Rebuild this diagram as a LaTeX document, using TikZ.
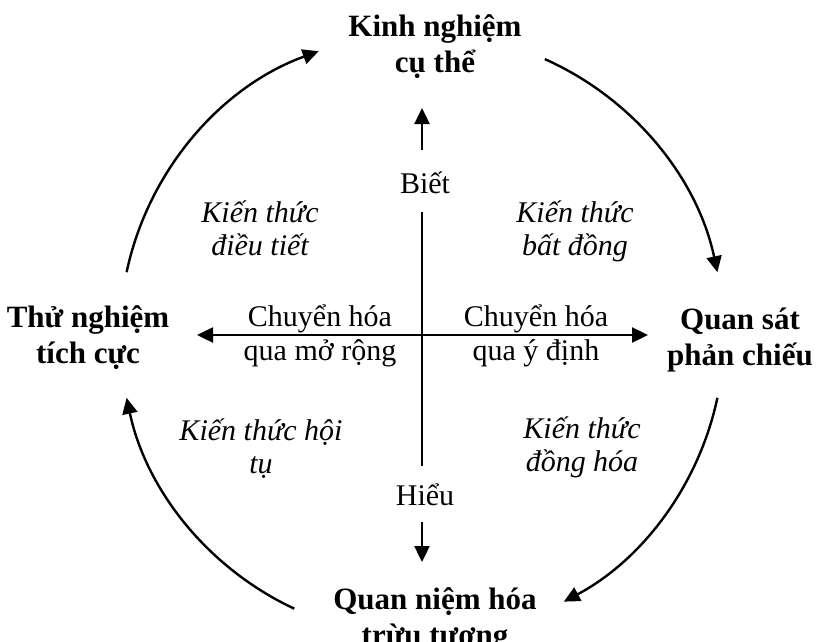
\documentclass[tikz,border=0pt]{standalone}
\usepackage{fontspec}
\setmainfont{Liberation Serif}
\usetikzlibrary{arrows.meta}
\tikzset{
  ln/.style   ={draw=black, line width=2.4pt},
  ptr/.style  ={ln, -{Triangle[length=16pt,width=15pt]}},
  pole/.style ={font=\fontsize{31}{36}\selectfont\bfseries, align=center, inner sep=1pt},
  ax/.style   ={font=\fontsize{30}{34}\selectfont, align=center, inner sep=1pt},
  kt/.style   ={font=\fontsize{30}{33}\selectfont\itshape, align=center, inner sep=1pt},
}
\begin{document}
\begin{tikzpicture}[x=1pt,y=-1pt]
  \useasboundingbox (0,0) rectangle (828,642);
  \coordinate (o) at (422,335);
  \node[pole] (kinh) at (435,47) {Kinh nghiệm\\cụ thể};
  \node[pole] (thu) at (88,338) {Thử nghiệm\\tích cực};
  \node[pole] (quan) at (740,340) {Quan sát\\phản chiếu};
  \node[pole] (niem) at (435,620) {Quan niệm hóa\\trừu tượng};
  \node[ax] (biet) at (425,183) {Biết};
  \node[ax] (hieu) at (425,495) {Hiểu};
  \node[ax] (chl) at (320,336) {Chuyển hóa\\qua mở rộng};
  \node[ax] (chr) at (536,336) {Chuyển hóa\\qua ý định};
  \node[kt] (ktdt) at (260,228) {Kiến thức\\điều tiết};
  \node[kt] (ktbd) at (575,231) {Kiến thức\\bất đồng};
  \node[kt] (ktht) at (261,449) {Kiến thức hội\\tụ};
  \node[kt] (ktdh) at (582,447) {Kiến thức\\đồng hóa};
  \coordinate (up) at (422,108);
  \coordinate (dn) at (422,562);
  \coordinate (lt) at (197,335);
  \coordinate (rt) at (648,335);
  \draw[ptr] (422,150) -- (up);
  \draw[ln] (422,212) -- (422,466);
  \draw[ptr] (422,522) -- (dn);
  \draw[ptr] (o) -- (lt);
  \draw[ptr] (o) -- (rt);
  \path (o) ++(-168:302) coordinate (a1) (o) ++(-66:302) coordinate (a2)
        (o) ++(12:302) coordinate (a3) (o) ++(115:302) coordinate (a4);
  \draw[ptr] (a1) arc[start angle=-168, end angle=-110, radius=302];
  \draw[ptr] (a2) arc[start angle=-66, end angle=-12, radius=302];
  \draw[ptr] (a3) arc[start angle=12, end angle=62, radius=302];
  \draw[ptr] (a4) arc[start angle=115, end angle=168, radius=302];
\end{tikzpicture}
\end{document}
